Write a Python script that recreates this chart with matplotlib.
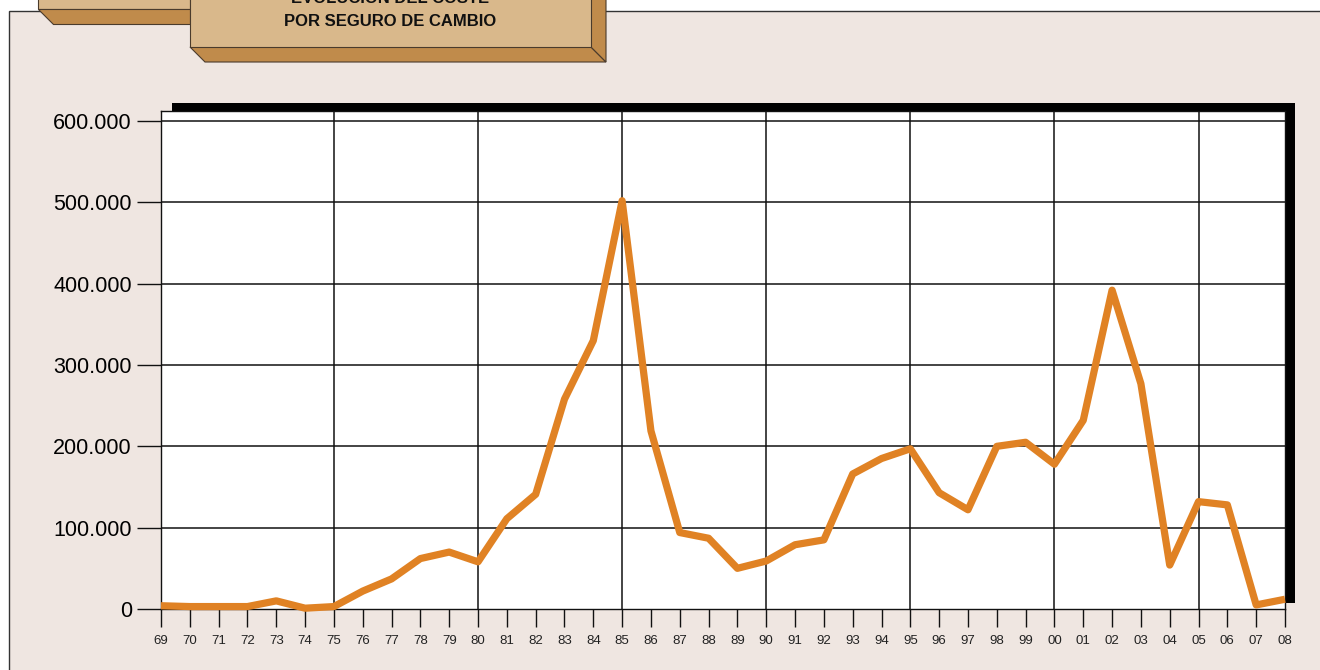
import matplotlib.pyplot as plt
from matplotlib.patches import Polygon
from matplotlib.ticker import FuncFormatter

# data
years = ["69", "70", "71", "72", "73", "74", "75", "76", "77", "78",
         "79", "80", "81", "82", "83", "84", "85", "86", "87", "88",
         "89", "90", "91", "92", "93", "94", "95", "96", "97", "98",
         "99", "00", "01", "02", "03", "04", "05", "06", "07", "08"]
coste = [4000, 3000, 3000, 3000, 10000, 1000, 3000, 22000, 37000, 62000,
         70000, 58000, 111000, 141000, 258000, 330000, 502000, 219000, 94000, 87000,
         50000, 59000, 79000, 85000, 166000, 185000, 197000, 143000, 122000, 200000,
         205000, 178000, 232000, 392000, 277000, 54000, 132000, 128000, 5000, 12000]
grid_years = ["75", "80", "85", "90", "95", "00", "05"]
y_ticks = [0, 100000, 200000, 300000, 400000, 500000, 600000]
title_lines = ["EVOLUCIÓN DEL COSTE", "POR SEGURO DE CAMBIO"]

W, H = 1320, 670
fig = plt.figure(figsize=(W / 100, H / 100), dpi=100, facecolor="white")


def px(x, y):
    # pixel coords (top-left origin) -> figure fraction
    return (x / W, 1 - y / H)


def poly(points, **kw):
    p = Polygon([px(x, y) for x, y in points], closed=True,
                transform=fig.transFigure, **kw)
    fig.add_artist(p)
    return p


bg = "#efe6e1"
face = "#d9b88b"
side = "#c08b4b"
edge = "#4a3b2c"

# outer frame
poly([(9, 10.5), (1340, 10.5), (1340, 690), (9, 690)],
     facecolor=bg, edgecolor="#333333", lw=1.0, zorder=-3)

# black drop shadow behind the plot area
poly([(172, 103), (1295, 103), (1295, 603), (172, 603)],
     facecolor="black", edgecolor="none", zorder=-2)

# title tabs
poly([(38, -5), (190, -5), (190, 9), (38, 9)], facecolor=face, edgecolor=edge, lw=0.8)
poly([(38, 9), (190, 9), (190, 24), (53, 24)], facecolor=side, edgecolor=edge, lw=0.8)
poly([(190, 47), (591, 47), (606, 62), (205, 62)], facecolor=side, edgecolor=edge, lw=0.8)
poly([(591, -5), (606, -5), (606, 62), (591, 47)], facecolor=side, edgecolor=edge, lw=0.8)
poly([(190, -5), (591, -5), (591, 47), (190, 47)], facecolor=face, edgecolor=edge, lw=0.8)

title_font = ["Liberation Sans Narrow", "Liberation Sans", "DejaVu Sans"]
for i, line in enumerate(title_lines):
    fig.text(*px(390, -1.5 + 23 * i), line, ha="center", va="center",
             fontsize=12, fontweight="bold", color="#111111", family=title_font)

# plot area
ax = fig.add_axes([161 / W, (H - 609) / H, (1285 - 161) / W, (609 - 111) / H])
ax.set_facecolor("white")
xs = list(range(len(years)))
ax.set_xlim(0, len(years) - 1)
ax.set_ylim(0, 612300)

for g in grid_years:
    ax.axvline(years.index(g), color="#111111", lw=1.1, zorder=1)
for t in y_ticks[1:]:
    ax.axhline(t, color="#111111", lw=1.1, zorder=1)

ax.plot(xs, coste, color="#e08224", lw=5.2, solid_joinstyle="round",
        solid_capstyle="butt", zorder=3, clip_on=False)

ax.set_xticks(xs)
ax.set_xticklabels(years, fontsize=9.5, color="#222222", family="Liberation Sans")
ax.set_yticks(y_ticks)
ax.yaxis.set_major_formatter(FuncFormatter(lambda v, p: f"{int(v):,}".replace(",", ".")))
for lab in ax.get_yticklabels():
    lab.set_family("Liberation Sans")
ax.tick_params(axis="y", length=17, width=1.0, pad=4, labelsize=15.5, color="#111111")
ax.tick_params(axis="x", length=13, width=1.0, pad=6, color="#111111")

for s in ax.spines.values():
    s.set_color("#111111")
    s.set_linewidth(1.0)

fig.savefig("out.png", dpi=100, facecolor="white")
